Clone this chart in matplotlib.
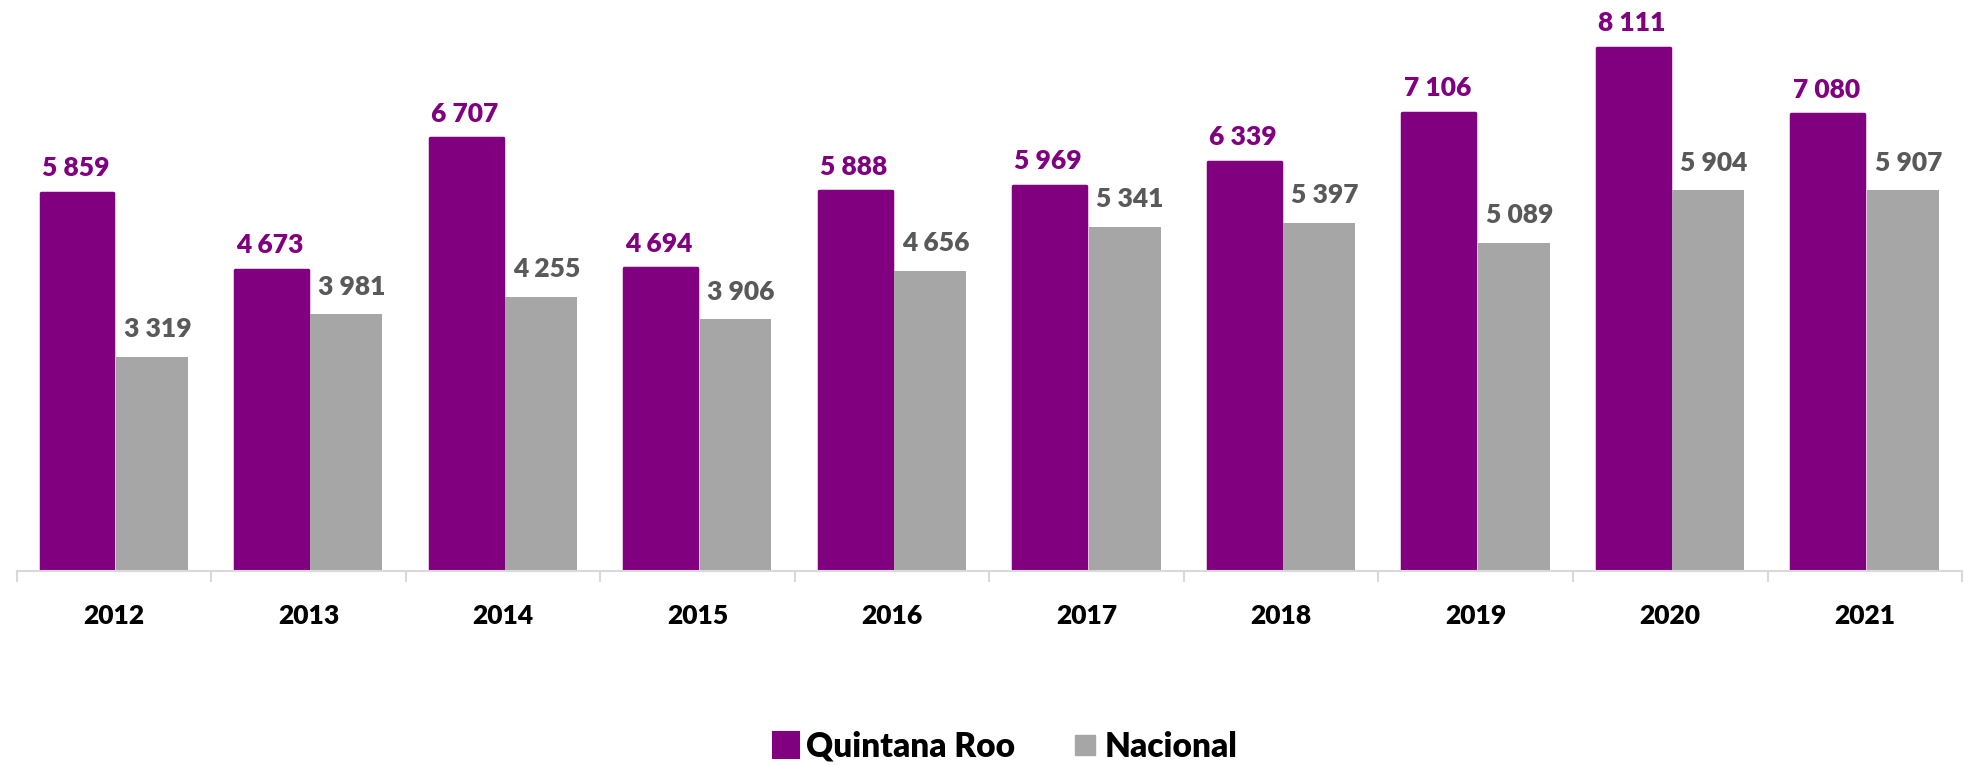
import matplotlib
matplotlib.use("Agg")
import matplotlib.pyplot as plt
from matplotlib.lines import Line2D
import numpy as np

plt.rcParams['font.family'] = ['Lato', 'DejaVu Sans']
plt.rcParams['font.weight'] = 'heavy'

years = ["2012", "2013", "2014", "2015", "2016", "2017", "2018", "2019", "2020", "2021"]
quintana_roo = [5859, 4673, 6707, 4694, 5888, 5969, 6339, 7106, 8111, 7080]
nacional = [3319, 3981, 4255, 3906, 4656, 5341, 5397, 5089, 5904, 5907]

PURPLE = "#800080"
GREY = "#A6A6A6"
LABEL_GREY = "#595959"
WEIGHT = "heavy"


def fmt(v):
    # thousands with a space, e.g. 5 859
    return f"{v:,}".replace(",", " ")


fig = plt.figure(figsize=(19.64, 7.65), dpi=100)
ax = fig.add_axes([0.0085, 0.2536, 0.9905, 0.7464])

x = np.arange(len(years))
w = 0.375
bars_q = ax.bar(x - 0.19, quintana_roo, width=w, color=PURPLE,
                edgecolor=PURPLE, linewidth=2.5, joinstyle="round")
bars_n = ax.bar(x + 0.195, nacional, width=0.37, color=GREY, linewidth=0)

for b, v in zip(bars_q, quintana_roo):
    ax.annotate(fmt(v), (b.get_x() + b.get_width() / 2, v), xytext=(-1, 12),
                textcoords="offset points", ha="center", va="baseline",
                fontsize=19, fontweight=WEIGHT, color=PURPLE)
for b, v in zip(bars_n, nacional):
    ax.annotate(fmt(v), (b.get_x() + b.get_width() / 2, v), xytext=(4, 14),
                textcoords="offset points", ha="center", va="baseline",
                fontsize=19, fontweight=WEIGHT, color=LABEL_GREY)

ax.set_xlim(-0.5, len(years) - 0.5)
ax.set_ylim(0, 8853)

for s in ["top", "right", "left"]:
    ax.spines[s].set_visible(False)
ax.spines["bottom"].set_color("#D9D9D9")
ax.spines["bottom"].set_linewidth(1.5)
ax.set_yticks([])

# category labels in the middle, tick marks at the boundaries
ax.set_xticks(x)
ax.set_xticklabels(years, fontsize=19, fontweight=WEIGHT, color="black")
ax.tick_params(axis="x", which="major", length=0, pad=23.5)
ax.set_xticks(np.arange(-0.5, len(years)), minor=True)
ax.tick_params(axis="x", which="minor", length=8, width=1.5, color="#D9D9D9")

handles = [
    Line2D([], [], marker="s", linestyle="none", markersize=19, markerfacecolor=PURPLE,
           markeredgecolor=PURPLE, markeredgewidth=1.5),
    Line2D([], [], marker="s", linestyle="none", markersize=14, markerfacecolor=GREY,
           markeredgecolor=GREY),
]
fig.legend(handles, ["Quintana Roo", "Nacional"], loc="center", bbox_to_anchor=(0.511, 0.024),
           ncol=2, frameon=False, handletextpad=0.1, columnspacing=1.6,
           handlelength=1.0, prop={"weight": WEIGHT, "size": 24})

fig.savefig("out.png", dpi=100)
